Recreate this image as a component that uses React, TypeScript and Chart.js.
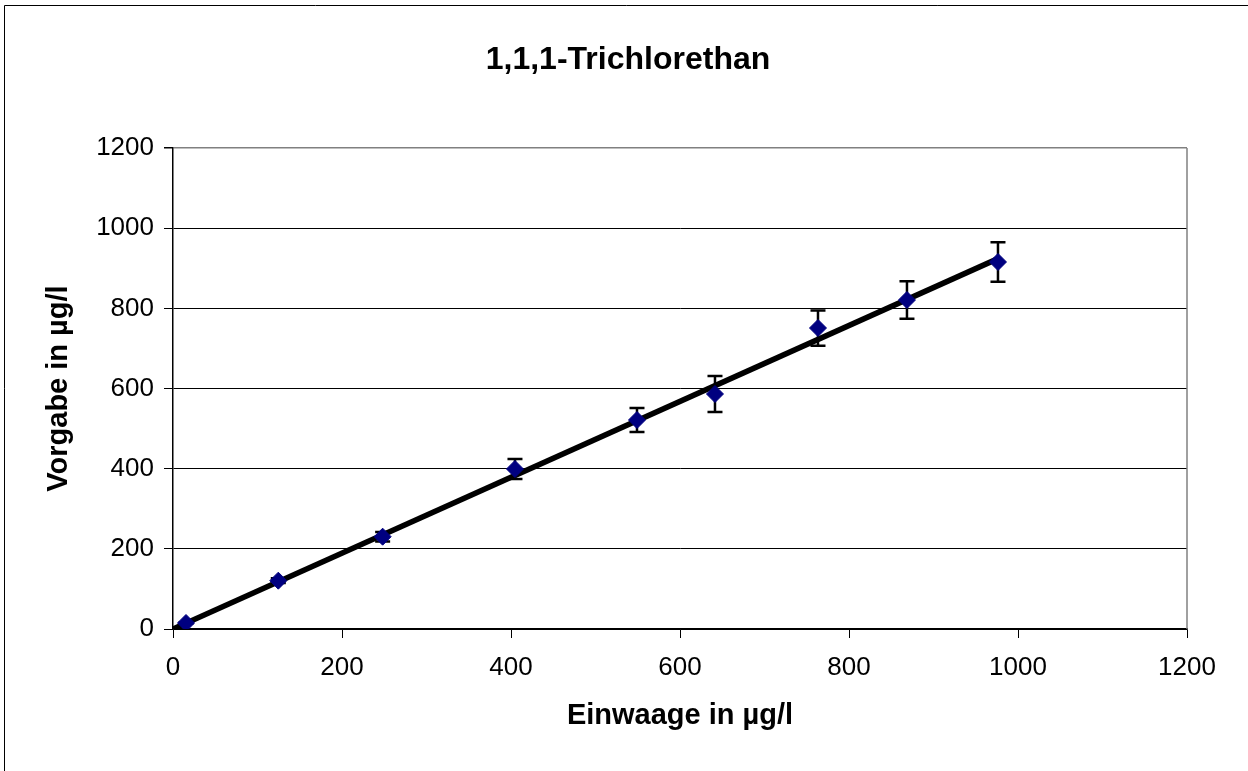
import React, { useEffect, useRef } from "react";
import { Chart, registerables } from "chart.js";

Chart.register(...registerables);

const chartTitle = "1,1,1-Trichlorethan";
const xAxisTitle = "Einwaage in µg/l";
const yAxisTitle = "Vorgabe in µg/l";

const xValues = [15.4, 124.6, 248.1, 404.7, 549.1, 641.4, 763.3, 868.6, 976.3];
const yValues = [15.0, 120.5, 230.3, 399.2, 521.4, 586.3, 750.9, 820.8, 915.6];
const yErrors = [1, 6, 12, 25, 30, 45, 44, 47, 49];

const fitX = [0, 976.3];
const fitY = [0, 924];

const axisMin = 0;
const axisMax = 1200;
const axisStep = 200;

const FONT = "'Liberation Sans', Arial, Helvetica, sans-serif";

export default function App() {
  const ref = useRef<HTMLCanvasElement | null>(null);

  useEffect(() => {
    const canvas = ref.current;
    if (!canvas) return;

    const errorBars = {
      id: "errorBars",
      beforeDatasetDraw(chart: any, args: any) {
        if (args.index !== 0) return;
        const ctx = chart.ctx;
        const xs = chart.scales.x;
        const ys = chart.scales.y;
        ctx.save();
        ctx.strokeStyle = "#000000";
        ctx.lineWidth = 2.5;
        for (let i = 0; i < xValues.length; i++) {
          const px = xs.getPixelForValue(xValues[i]);
          const top = ys.getPixelForValue(yValues[i] + yErrors[i]);
          const bot = ys.getPixelForValue(yValues[i] - yErrors[i]);
          ctx.beginPath();
          ctx.moveTo(px, top);
          ctx.lineTo(px, bot);
          ctx.moveTo(px - 7.5, top);
          ctx.lineTo(px + 7.5, top);
          ctx.moveTo(px - 7.5, bot);
          ctx.lineTo(px + 7.5, bot);
          ctx.stroke();
        }
        ctx.restore();
      },
    };

    const frame = {
      id: "frame",
      afterDraw(chart: any) {
        const ctx = chart.ctx;
        const a = chart.chartArea;
        ctx.save();
        ctx.strokeStyle = "#808080";
        ctx.lineWidth = 1.5;
        ctx.beginPath();
        ctx.moveTo(a.right, a.top);
        ctx.lineTo(a.right, a.bottom);
        ctx.stroke();
        ctx.strokeStyle = "#000000";
        ctx.lineWidth = 1;
        ctx.beginPath();
        ctx.moveTo(4.5, 1000);
        ctx.lineTo(4.5, 5.5);
        ctx.lineTo(1400, 5.5);
        ctx.stroke();
        ctx.fillStyle = "#000000";
        ctx.font = `bold 32px ${FONT}`;
        ctx.textAlign = "center";
        ctx.textBaseline = "middle";
        ctx.fillText(chartTitle, 628, 60);
        ctx.restore();
      },
    };

    const chart = new Chart(canvas, {
      type: "scatter",
      data: {
        datasets: [
          {
            label: "Messwerte",
            data: xValues.map((x, i) => ({ x, y: yValues[i] })),
            pointStyle: "rectRot",
            pointRadius: 8.5,
            pointBackgroundColor: "#000080",
            pointBorderColor: "#000080",
            pointBorderWidth: 1,
            showLine: false,
          },
          {
            label: "Regression",
            data: fitX.map((x, i) => ({ x, y: fitY[i] })),
            showLine: true,
            borderColor: "#000000",
            borderWidth: 5.5,
            pointRadius: 0,
            fill: false,
          },
        ],
      },
      options: {
        animation: false,
        responsive: false,
        devicePixelRatio: 1,
        layout: { padding: { left: 0, top: 148, right: 61, bottom: 0 } },
        plugins: {
          legend: { display: false },
          title: { display: false },
          tooltip: { enabled: false },
        },
        scales: {
          x: {
            type: "linear",
            min: axisMin,
            max: axisMax,
            afterFit: (s: any) => {
              s.height = 142;
            },
            ticks: {
              stepSize: axisStep,
              padding: 14,
              color: "#000000",
              font: { family: FONT, size: 26 },
              maxRotation: 0,
              callback: (v: any) => String(v),
            },
            grid: {
              drawOnChartArea: false,
              drawTicks: true,
              tickLength: 9,
              tickColor: "#000000",
              color: "#000000",
            },
            border: { display: true, color: "#000000", width: 1.5 },
            title: {
              display: true,
              text: xAxisTitle,
              color: "#000000",
              font: { family: FONT, size: 29, weight: "bold" },
              padding: { top: 0, bottom: 38 },
            },
          },
          y: {
            type: "linear",
            min: axisMin,
            max: axisMax,
            afterFit: (s: any) => {
              s.width = 173;
            },
            ticks: {
              stepSize: axisStep,
              padding: 10,
              color: "#000000",
              font: { family: FONT, size: 26 },
              callback: (v: any) => String(v),
            },
            grid: {
              drawTicks: true,
              tickLength: 9,
              tickColor: "#000000",
              color: (c: any) =>
                c.tick && c.tick.value === axisMax ? "#808080" : "#000000",
              lineWidth: (c: any) =>
                c.tick && c.tick.value === axisMax ? 1.5 : 1,
            },
            border: { display: true, color: "#000000", width: 1.5 },
            title: {
              display: true,
              text: yAxisTitle,
              color: "#000000",
              font: { family: FONT, size: 29, weight: "bold" },
              padding: { top: 42, bottom: 0 },
            },
          },
        },
      },
      plugins: [errorBars, frame],
    });

    return () => {
      chart.destroy();
    };
  }, []);

  return (
    <div
      style={{
        position: "fixed",
        left: 0,
        top: 0,
        width: 1248,
        height: 771,
        background: "#ffffff",
      }}
    >
      <canvas ref={ref} width={1248} height={771} />
    </div>
  );
}
